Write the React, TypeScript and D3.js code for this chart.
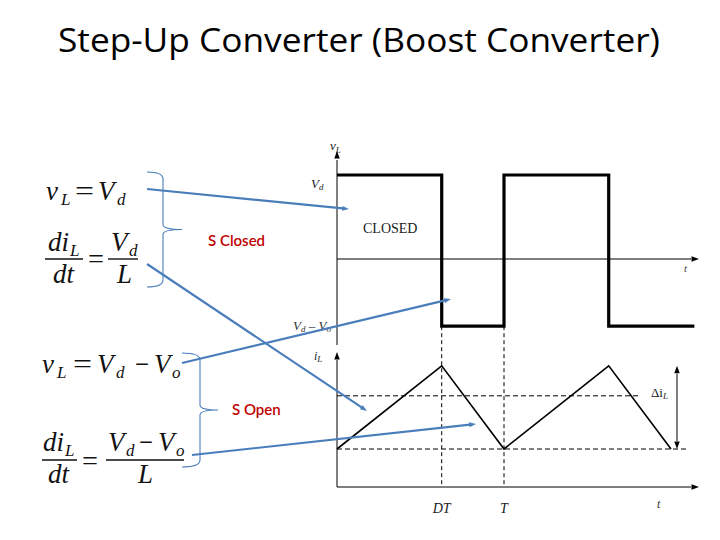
import React from 'react';
import * as d3 from 'd3';

// switching waveform of a boost converter, time in units of the period T
const duty = 0.627;
const squareTimes = [0, duty, duty, 1, 1, 1 + duty, 1 + duty, 2.14];
const squareValues = [1, 1, -0.8, -0.8, 1, 1, -0.8, -0.8];      // v_L / V_d
const triTimes = [0, duty, 1, 1 + duty, 2];
const triValues = [0.95, 3.03, 0.95, 3.03, 0.95];                // i_L
const currentAvg = 2.28;
const tickNames = ['DT', 'T'];
const tickTimes = [duty, 1];

const BLUE = '#4a7ebb';
const RED = '#c00000';
const MATH = '"Liberation Serif", "DejaVu Serif", serif';

function ArrowHead({ x, y, dir, size = 6, fill = '#000' }: { x: number; y: number; dir: number; size?: number; fill?: string }) {
  // dir in degrees, 0 = pointing right
  const a = (dir * Math.PI) / 180;
  const p = (r: number, da: number) => [x - size * r * Math.cos(a + da), y - size * r * Math.sin(a + da)];
  const b1 = p(1.6, 0.35), b2 = p(1.6, -0.35);
  return <path d={`M${x},${y}L${b1[0]},${b1[1]}L${b2[0]},${b2[1]}Z`} fill={fill} />;
}

function BlueArrow({ x1, y1, x2, y2 }: { x1: number; y1: number; x2: number; y2: number }) {
  const ang = (Math.atan2(y2 - y1, x2 - x1) * 180) / Math.PI;
  const a = (ang * Math.PI) / 180;
  return (
    <g>
      <line x1={x1} y1={y1} x2={x2 - 6 * Math.cos(a)} y2={y2 - 6 * Math.sin(a)} stroke={BLUE} strokeWidth={2.2} />
      <ArrowHead x={x2} y={y2} dir={ang} size={4.5} fill={BLUE} />
    </g>
  );
}

function Brace({ x0, x1, y0, y1, tip }: { x0: number; x1: number; y0: number; y1: number; tip: number }) {
  const ym = (y0 + y1) / 2;
  const d = `M${x0},${y0}Q${x1},${y0} ${x1},${y0 + 7}V${ym - 5}Q${x1},${ym} ${tip},${ym}Q${x1},${ym} ${x1},${ym + 5}V${y1 - 7}Q${x1},${y1} ${x0},${y1}`;
  return <path d={d} fill="none" stroke={BLUE} strokeWidth={1.1} />;
}

// one math glyph group: italic by default, sub = smaller and lowered
function M({ x, y, t, sub, up, w }: { x: number; y: number; t: string; sub?: boolean; up?: boolean; w?: number }) {
  return (
    <text x={x} y={sub ? y + 5 : y} fontSize={sub ? 17 : 27} fontStyle={up ? 'normal' : 'italic'}
      textLength={w} lengthAdjust={w ? 'spacingAndGlyphs' : undefined}>{t}</text>
  );
}

function App() {
  const x = d3.scaleLinear().domain([0, 1]).range([337, 504]);
  const yV = d3.scaleLinear().domain([0, 1]).range([259, 175]);
  const yI = d3.scaleLinear().domain([0, 1]).range([487, 447]);

  const sq = squareTimes.map((t, i) => [t, squareValues[i]] as [number, number]);
  const tri = triTimes.map((t, i) => [t, triValues[i]] as [number, number]);
  const lineV = d3.line<[number, number]>().x(d => x(d[0])).y(d => yV(d[1]));
  const lineI = d3.line<[number, number]>().x(d => x(d[0])).y(d => yI(d[1]));

  const x0 = x(0);
  const xEnd = 699;
  const lowY = yV(-0.8);
  const iMinY = yI(triValues[0]);
  const iMaxY = yI(triValues[1]);

  const it = { fontStyle: 'italic' as const };

  return (
    <svg width={720} height={540} style={{ display: 'block', position: 'absolute', left: 0, top: 0, background: '#fff' }}>
      <text x={359} y={52} textAnchor="middle" fontFamily="'Open Sans', Lato, sans-serif" fontSize={33} fill="#000" textLength={602} lengthAdjust="spacingAndGlyphs">
        Step-Up Converter (Boost Converter)
      </text>

      {/* top chart: v_L */}
      <line x1={x0} y1={345} x2={x0} y2={160} stroke="#000" strokeWidth={1} />
      <ArrowHead x={x0} y={151} dir={-90} size={5} />
      <line x1={x0} y1={yV(0)} x2={xEnd - 8} y2={yV(0)} stroke="#000" strokeWidth={1} />
      <ArrowHead x={xEnd} y={yV(0)} dir={0} size={5} />
      <path d={lineV(sq) || ''} fill="none" stroke="#000" strokeWidth={3.2} />
      <text x={330} y={150} fontFamily={MATH} fontSize={13} fill="#222" style={it}>v<tspan fontSize={9} dy={3}>L</tspan></text>
      <text x={311} y={188} fontFamily={MATH} fontSize={13} fill="#222" style={it}>V<tspan fontSize={9} dy={2}>d</tspan></text>
      <text x={684} y={272} fontFamily={MATH} fontSize={11} fill="#444" style={it}>t</text>
      <text x={363} y={233} fontFamily={MATH} fontSize={14} fill="#222">CLOSED</text>
      <text x={293} y={330} fontFamily={MATH} fontSize={13} fill="#333" style={it}>V<tspan fontSize={9} dy={2}>d</tspan><tspan dy={-2}> – V</tspan><tspan fontSize={9} dy={2}>o</tspan></text>

      {/* bottom chart: i_L */}
      <line x1={x0} y1={yI(0)} x2={x0} y2={360} stroke="#000" strokeWidth={1} />
      <ArrowHead x={x0} y={352} dir={-90} size={5} />
      <line x1={x0} y1={yI(0)} x2={xEnd - 8} y2={yI(0)} stroke="#000" strokeWidth={1} />
      <ArrowHead x={xEnd} y={yI(0)} dir={0} size={5} />
      {tickTimes.map((t, i) => (
        <g key={tickNames[i]}>
          <line x1={x(t)} y1={lowY} x2={x(t)} y2={yI(0)} stroke="#000" strokeWidth={1} strokeDasharray="4,3" />
          <text x={x(t)} y={513} textAnchor="middle" fontFamily={MATH} fontSize={14} fill="#222" style={it}>{tickNames[i]}</text>
        </g>
      ))}
      <line x1={x0} y1={yI(currentAvg)} x2={640} y2={yI(currentAvg)} stroke="#000" strokeWidth={1} strokeDasharray="5,3" />
      <line x1={x0} y1={iMinY} x2={686} y2={iMinY} stroke="#000" strokeWidth={1} strokeDasharray="5,3" />
      <path d={lineI(tri) || ''} fill="none" stroke="#000" strokeWidth={1.6} />
      <line x1={677} y1={iMaxY + 8} x2={677} y2={iMinY - 8} stroke="#000" strokeWidth={1} />
      <ArrowHead x={677} y={iMaxY} dir={-90} size={5} />
      <ArrowHead x={677} y={iMinY} dir={90} size={5} />
      <text x={651} y={397} fontFamily={MATH} fontSize={13} fill="#222">Δi<tspan fontSize={9} dy={2} style={it}>L</tspan></text>
      <text x={314} y={360} fontFamily={MATH} fontSize={12} fill="#222" style={it}>i<tspan fontSize={9} dy={2}>L</tspan></text>
      <text x={657} y={508} fontFamily={MATH} fontSize={12} fill="#333" style={it}>t</text>

      {/* equations */}
      <g fontFamily={MATH} fill="#111">
        {/* v_L = V_d */}
        <M x={46} y={200} t="v" /><M x={61} y={200} t="L" sub />
        <M x={75} y={200} t="=" up w={19} />
        <M x={98} y={200} t="V" /><M x={117} y={200} t="d" sub />

        {/* di_L/dt = V_d/L */}
        <M x={48} y={251} t="di" /><M x={70} y={251} t="L" sub />
        <line x1={45} y1={259} x2={83} y2={259} stroke="#111" strokeWidth={1.4} />
        <M x={53} y={283} t="dt" />
        <M x={88} y={268} t="=" up w={16} />
        <M x={111} y={251} t="V" /><M x={129} y={251} t="d" sub />
        <line x1={108} y1={259} x2={138} y2={259} stroke="#111" strokeWidth={1.4} />
        <M x={117} y={283} t="L" />

        {/* v_L = V_d - V_o */}
        <M x={42} y={373} t="v" /><M x={57} y={373} t="L" sub />
        <M x={73} y={373} t="=" up w={19} />
        <M x={97} y={373} t="V" /><M x={116} y={373} t="d" sub />
        <M x={135} y={373} t="−" up w={14} />
        <M x={154} y={373} t="V" /><M x={172} y={373} t="o" sub />

        {/* di_L/dt = (V_d - V_o)/L */}
        <M x={43} y={451} t="di" /><M x={65} y={451} t="L" sub />
        <line x1={42} y1={460} x2={77} y2={460} stroke="#111" strokeWidth={1.4} />
        <M x={48} y={483} t="dt" />
        <M x={82} y={470} t="=" up w={16} />
        <M x={108} y={451} t="V" /><M x={126} y={451} t="d" sub />
        <M x={139} y={451} t="−" up w={14} />
        <M x={158} y={451} t="V" /><M x={176} y={451} t="o" sub />
        <line x1={106} y1={460} x2={184} y2={460} stroke="#111" strokeWidth={1.4} />
        <M x={138} y={483} t="L" />
      </g>

      <Brace x0={147} x1={163} y0={172} y1={287} tip={182} />
      <Brace x0={182} x1={200} y0={353} y1={467} tip={218} />
      <text x={208} y={246} fontFamily="Lato, 'Open Sans', sans-serif" fontWeight={600} fontSize={15} fill={RED}>S Closed</text>
      <text x={232} y={415} fontFamily="Lato, 'Open Sans', sans-serif" fontWeight={600} fontSize={15} fill={RED}>S Open</text>

      <BlueArrow x1={147} y1={189} x2={349} y2={209} />
      <BlueArrow x1={147} y1={264} x2={367} y2={411} />
      <BlueArrow x1={182} y1={363} x2={451} y2={299} />
      <BlueArrow x1={192} y1={455} x2={476} y2={424} />
    </svg>
  );
}

export default App;
